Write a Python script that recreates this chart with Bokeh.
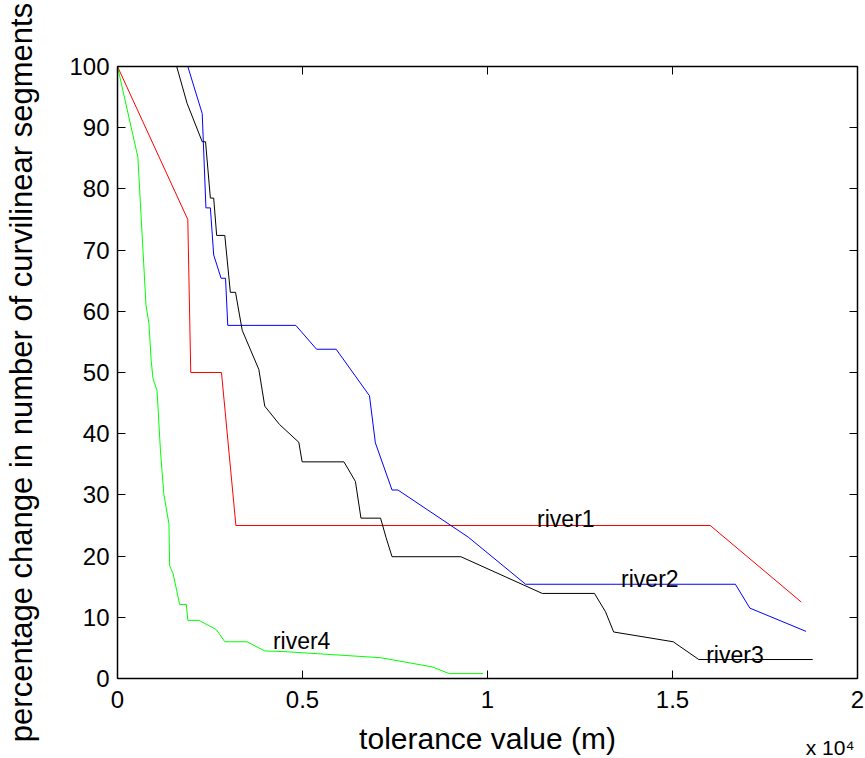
from bokeh.plotting import figure
from bokeh.models import LinearAxis, FixedTicker, Range1d
from bokeh.core.properties import value
from bokeh.embed import file_html
from bokeh.resources import INLINE

# tolerance values in units of 10^4 m
river1_x = [0, 0.19, 0.198, 0.281, 0.32, 1.602, 1.848]
river1_y = [100, 75, 50, 50, 25, 25, 12.5]

river2_x = [0, 0.19, 0.229, 0.239, 0.251, 0.26, 0.28, 0.292, 0.298, 0.482, 0.538,
            0.591, 0.681, 0.697, 0.742, 0.758, 0.948, 1.103, 1.67, 1.709, 1.861]
river2_y = [100, 100, 92.3, 76.9, 76.9, 69.2, 65.4, 65.4, 57.7, 57.7, 53.8,
            53.8, 46.2, 38.5, 30.8, 30.8, 23.1, 15.4, 15.4, 11.5, 7.7]

river3_x = [0, 0.16, 0.188, 0.229, 0.238, 0.251, 0.26, 0.268, 0.29, 0.305, 0.319,
            0.337, 0.382, 0.398, 0.438, 0.49, 0.499, 0.612, 0.643, 0.658, 0.711,
            0.726, 0.742, 0.928, 1.148, 1.289, 1.319, 1.341, 1.502, 1.571, 1.879]
river3_y = [100, 100, 94, 87.7, 87.7, 78.5, 78.5, 72.4, 72.4, 63.1, 63.1,
            56.9, 50.5, 44.5, 41.5, 38.6, 35.4, 35.4, 32.2, 26.2, 26.2,
            23.0, 19.9, 19.9, 13.9, 13.9, 10.9, 7.6, 6.0, 3.1, 3.1]

river4_x = [0, 0.055, 0.077, 0.085, 0.091, 0.096, 0.107, 0.116, 0.125, 0.139, 0.141,
            0.15, 0.168, 0.186, 0.19, 0.22, 0.267, 0.29, 0.35, 0.398, 0.449, 0.711,
            0.85, 0.897, 0.988]
river4_y = [100, 85.2, 61, 58, 52, 49, 47, 37.3, 30.2, 25.3, 18.4,
            17.2, 12.1, 12.1, 9.5, 9.5, 8.0, 6.0, 6.0, 4.5, 4.4, 3.4,
            1.9, 0.8, 0.8]

series_names = ["river1", "river2", "river3", "river4"]
series_colors = ["#ff0000", "#0000ff", "#000000", "#00ff00"]
label_x = [1.134, 1.361, 1.591, 0.42]
label_y = [26.0, 16.2, 3.9, 6.1]

x_ticks = [0, 0.5, 1, 1.5, 2]
x_tick_labels = ["0", "0.5", "1", "1.5", "2"]
y_ticks = [0, 10, 20, 30, 40, 50, 60, 70, 80, 90, 100]
exponent_pos = 1.926
exponent_text = "x 10\u2074"
x_title = "tolerance value (m)"
y_title = "percentage change in number of curvilinear segments"

FONT = "Liberation Sans"

p = figure(width=865, height=758, output_backend="svg", toolbar_location=None,
           x_range=Range1d(0, 2), y_range=Range1d(0, 100),
           min_border_left=117, min_border_right=8, min_border_top=66,
           min_border_bottom=80, y_axis_label=y_title)
p.grid.visible = False
p.outline_line_color = "#000000"
p.outline_line_width = 1
p.background_fill_color = "white"
p.border_fill_color = "white"

xs = [river1_x, river2_x, river3_x, river4_x]
ys = [river1_y, river2_y, river3_y, river4_y]
for xv, yv, c in zip(xs, ys, series_colors):
    p.line(xv, yv, line_color=c, line_width=1)

p.text(x=label_x, y=label_y, text=series_names, text_font=value(FONT),
       text_font_size="23px", text_color="#000000", text_align="left",
       text_baseline="alphabetic")


def style_axis(ax, show_labels, label_size="30px"):
    ax.axis_line_color = "#000000"
    ax.axis_line_width = 1.5
    ax.major_tick_line_color = "#000000"
    ax.major_tick_in = 8
    ax.major_tick_out = 0
    ax.minor_tick_line_color = None
    if show_labels:
        ax.major_label_text_font = FONT
        ax.major_label_text_font_size = "24px"
        ax.major_label_text_color = "#000000"
        ax.axis_label_text_font = FONT
        ax.axis_label_text_font_size = label_size
        ax.axis_label_text_font_style = "normal"
        ax.axis_label_text_color = "#000000"
    else:
        ax.major_label_overrides = {t: "" for t in ax.ticker.ticks}
        ax.major_label_text_font_size = "1px"
        ax.major_label_standoff = 0


xa = p.xaxis[0]
xa.ticker = FixedTicker(ticks=x_ticks)
xa.major_label_overrides = {t: l for t, l in zip(x_ticks, x_tick_labels)}
style_axis(xa, True, "30px")
xa.major_label_standoff = 12

ya = p.yaxis[0]
ya.ticker = FixedTicker(ticks=y_ticks)
style_axis(ya, True, "31px")
ya.major_label_standoff = 8
ya.axis_label_standoff = 27

top = LinearAxis(ticker=FixedTicker(ticks=x_ticks))
style_axis(top, False)
p.add_layout(top, "above")
right = LinearAxis(ticker=FixedTicker(ticks=y_ticks))
style_axis(right, False)
p.add_layout(right, "right")

# bare secondary bottom axis: carries the x title and the "x 10^4" note,
# both on the same row
ex = LinearAxis(ticker=FixedTicker(ticks=[exponent_pos]), axis_label=x_title)
ex.major_label_overrides = {exponent_pos: exponent_text}
ex.axis_line_color = None
ex.major_tick_line_color = None
ex.minor_tick_line_color = None
ex.major_tick_in = 0
ex.major_tick_out = 0
ex.major_label_text_font = FONT
ex.major_label_text_font_size = "21px"
ex.major_label_text_color = "#000000"
ex.major_label_standoff = 25
ex.axis_label_text_font = FONT
ex.axis_label_text_font_size = "30px"
ex.axis_label_text_font_style = "normal"
ex.axis_label_text_color = "#000000"
ex.axis_label_standoff = -40
p.add_layout(ex, "below")

open("out.html", "w").write(file_html(p, INLINE))
